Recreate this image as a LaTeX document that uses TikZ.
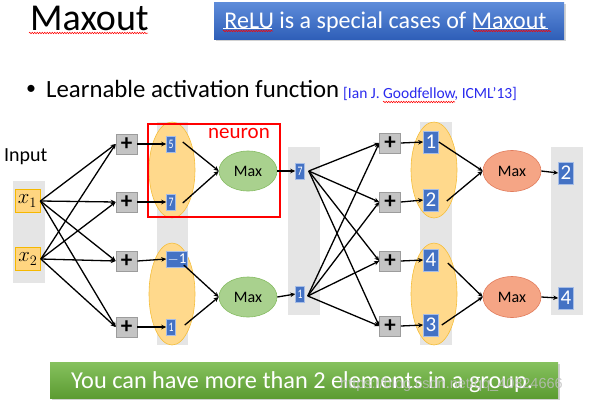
\documentclass[tikz,border=0pt]{standalone}
\usepackage{fontspec}
\setmainfont{Carlito}
\usetikzlibrary{arrows.meta,shapes.geometric,shadows,decorations.pathmorphing}
\definecolor{colgray}{HTML}{E5E5E5}
\definecolor{orfill}{HTML}{FFD98C}
\definecolor{ordraw}{HTML}{F5BE3A}
\definecolor{plusfill}{HTML}{C4C4C4}
\definecolor{plusdraw}{HTML}{9C9C9C}
\definecolor{bluefill}{HTML}{4472C4}
\definecolor{blueedge}{HTML}{A6BDE6}
\definecolor{gfill}{HTML}{A9D18E}
\definecolor{gdraw}{HTML}{86BC62}
\definecolor{rfill}{HTML}{F5A585}
\definecolor{rdraw}{HTML}{E27C5C}
\definecolor{xfill}{HTML}{FFD580}
\definecolor{xdraw}{HTML}{F5B800}
\definecolor{citeblue}{HTML}{2A2AEE}
\definecolor{btop}{HTML}{5E8CDA}
\definecolor{bbot}{HTML}{2F5FB8}
\definecolor{gtop}{HTML}{86C15E}
\definecolor{gbot}{HTML}{5C9C32}
\begin{document}
\begin{tikzpicture}[x=1pt,y=-1pt,
  gcol/.style={fill=colgray, draw=none},
  orel/.style={ellipse, fill=orfill, draw=ordraw, line width=0.6pt, inner sep=0, minimum width=46pt},
  plusbox/.style={draw=plusdraw, fill=plusfill, line width=0.6pt, minimum width=21pt, minimum height=20pt, inner sep=0, font=\bfseries\fontsize{23}{23}\selectfont},
  sbox/.style={fill=bluefill, draw=blueedge, line width=0.5pt, minimum width=9pt, minimum height=16pt, inner sep=0, text=white, font=\fontsize{13}{13}\selectfont},
  bbox/.style={fill=bluefill, draw=blueedge, line width=0.6pt, minimum width=15pt, minimum height=22pt, inner sep=0, text=white, font=\fontsize{21}{21}\selectfont},
  maxg/.style={ellipse, fill=gfill, draw=gdraw, line width=0.6pt, minimum width=58pt, minimum height=40pt, inner sep=0, font=\fontsize{16}{16}\selectfont},
  maxr/.style={ellipse, fill=rfill, draw=rdraw, line width=0.6pt, minimum width=58pt, minimum height=41pt, inner sep=0, font=\fontsize{16}{16}\selectfont},
  xbox/.style={fill=xfill, draw=xdraw, line width=0.7pt, minimum width=25pt, minimum height=23pt, inner sep=0, font=\fontsize{20}{20}\selectfont},
  arr/.style={-{Stealth[length=5pt,width=4.5pt]}, line width=1.3pt},
  squig/.style={red, line width=0.5pt, decorate, decoration={snake, segment length=2.5pt, amplitude=0.8pt}},
]
\useasboundingbox (0,0) rectangle (591,402);
\fill[white] (0,0) rectangle (591,402);

% title
\node[anchor=base west, inner sep=0, font=\fontsize{38}{42}\selectfont] (title) at (30,30) {Maxout};
\draw[squig] (29,33) -- (148,33);

% blue banner
\node[draw=none, minimum width=350pt, minimum height=37pt, inner sep=0, top color=btop, bottom color=bbot,
  drop shadow={shadow xshift=1.5pt, shadow yshift=-1.5pt, opacity=0.35}] (banner) at (389,20.5) {};
\node[anchor=base, inner sep=0, text=white, font=\fontsize{24}{28}\selectfont] (bannertext) at (385.5,28) {ReLU is a special cases of Maxout};
\draw[white, line width=0.8pt] (223,28.5) -- (272,28.5);
\draw[white, line width=0.8pt] (473,28.5) -- (548,28.5);
\draw[squig] (223,31) -- (273,31);
\draw[squig] (473,31) -- (551,31);

% bullet
\node[inner sep=0, font=\fontsize{20}{24}\selectfont] (bullet) at (31,90) {\textbullet};
\node[anchor=base west, inner sep=0, font=\fontsize{24.8}{28}\selectfont] (learn) at (46,97) {Learnable activation function};
\node[anchor=base west, inner sep=0, text=citeblue, font=\fontsize{15.5}{18}\selectfont] (cite) at (343,98) {[Ian J. Goodfellow, ICML’13]};
\draw[squig] (383,102) -- (455,102);

% Input label
\node[anchor=base west, inner sep=0, font=\fontsize{20}{24}\selectfont] (inputlbl) at (4,161) {Input};

% gray columns
\fill[gcol] (13,181) rectangle (45,283);
\fill[gcol] (157,122) rectangle (188,345);
\fill[gcol] (288,147) rectangle (320,315);
\fill[gcol] (420,122) rectangle (452,345);
\fill[gcol] (551,147) rectangle (583,315);

% orange ellipses
\node[orel, minimum height=96pt] (e1) at (172,170) {};
\node[orel, minimum height=102pt] (e2) at (172,294) {};
\node[orel, minimum height=96pt] (e3) at (434,170) {};
\node[orel, minimum height=102pt] (e4) at (434,294) {};

% neuron highlight
\draw[red, line width=2.6pt] (148,124) rectangle (280,217);
\node[text=red, inner sep=0, font=\fontsize{21}{24}\selectfont] (neuron) at (239,133) {neuron};

% inputs
\node[xbox] (x1) at (27.5,201) {$x_1$};
\node[xbox] (x2) at (28,259) {$x_2$};

% first layer
\node[plusbox] (p1) at (126.5,144) {+};
\node[plusbox] (p2) at (126.5,202) {+};
\node[plusbox] (p3) at (126.5,261) {+};
\node[plusbox] (p4) at (126.5,327) {+};
\node[sbox] (a1) at (171,144) {\scalebox{0.75}[1]{5}};
\node[sbox] (a2) at (171,202) {\scalebox{0.75}[1]{7}};
\node[sbox, minimum width=21pt, font=\fontsize{15}{15}\selectfont] (a3) at (177,259) {$-$1};
\node[sbox] (a4) at (171,327) {\scalebox{0.75}[1]{1}};
\node[maxg] (g1) at (248,171) {Max};
\node[maxg] (g2) at (248,297) {Max};
\node[sbox] (b1) at (300,171) {\scalebox{0.75}[1]{7}};
\node[sbox] (b2) at (300,294) {\scalebox{0.75}[1]{1}};

% second layer
\node[plusbox] (q1) at (390,143) {+};
\node[plusbox] (q2) at (390,202) {+};
\node[plusbox] (q3) at (390,261) {+};
\node[plusbox] (q4) at (390,326) {+};
\node[bbox] (c1) at (431,142) {1};
\node[bbox] (c2) at (431,200) {2};
\node[bbox] (c3) at (431,260) {4};
\node[bbox] (c4) at (431,325) {3};
\node[maxr] (r1) at (512,171) {Max};
\node[maxr] (r2) at (512,297) {Max};
\node[bbox] (d1) at (566,173) {2};
\node[bbox] (d2) at (566,298) {4};

% connectors, layer 1
\foreach \p in {p1,p2,p3,p4}{
  \draw[arr] (x1.east) -- (\p.west);
  \draw[arr] (x2.east) -- (\p.west);
}
\draw[arr] (p1.east) -- (a1.west);
\draw[arr] (p2.east) -- (a2.west);
\draw[arr] (p3.east) -- (a3.west);
\draw[arr] (p4.east) -- (a4.west);
\draw[arr] ([xshift=7pt,yshift=2pt]a1.east) -- (g1.west);
\draw[arr] ([xshift=7pt,yshift=-1pt]a2.east) -- (g1.west);
\draw[arr] ([xshift=-4pt,yshift=-6pt]a3.east) -- (g2.west);
\draw[arr] ([xshift=9pt,yshift=2pt]a4.east) -- (g2.west);
\draw[arr] (g1.east) -- (b1.west);
\draw[arr] (g2.east) -- (b2.west);

% connectors, layer 2
\foreach \q in {q1,q2,q3,q4}{
  \draw[arr] ([xshift=4pt]b1.east) -- (\q.west);
  \draw[arr] ([xshift=3pt,yshift=-2pt]b2.east) -- (\q.west);
}
\draw[arr] (q1.east) -- (c1.west);
\draw[arr] (q2.east) -- (c2.west);
\draw[arr] (q3.east) -- (c3.west);
\draw[arr] (q4.east) -- (c4.west);
\draw[arr] (c1.east) -- (r1.west);
\draw[arr] ([xshift=8pt,yshift=-1pt]c2.east) -- (r1.west);
\draw[arr] ([xshift=9pt,yshift=-3pt]c3.east) -- (r2.west);
\draw[arr] ([xshift=3pt]c4.east) -- (r2.west);
\draw[arr] (r1.east) -- (d1.west);
\draw[arr] (r2.east) -- (d2.west);

% bottom banner
\node[draw=none, minimum width=508pt, minimum height=36pt, inner sep=0, top color=gtop, bottom color=gbot,
  drop shadow={shadow xshift=1.5pt, shadow yshift=-1.5pt, opacity=0.35}] (gbanner) at (304,380) {};
\node[anchor=base west, inner sep=0, text=white, font=\fontsize{24.3}{28}\selectfont] (gtext) at (71,388) {You can have more than 2 elements in a group.};
\node[anchor=base west, inner sep=0, text=gray!50, opacity=0.8, font=\fontspec{Liberation Sans}\fontsize{14.5}{16}\selectfont] (wm) at (340,388) {https://blog.csdn.net/qq\_40824666};
\end{tikzpicture}
\end{document}
